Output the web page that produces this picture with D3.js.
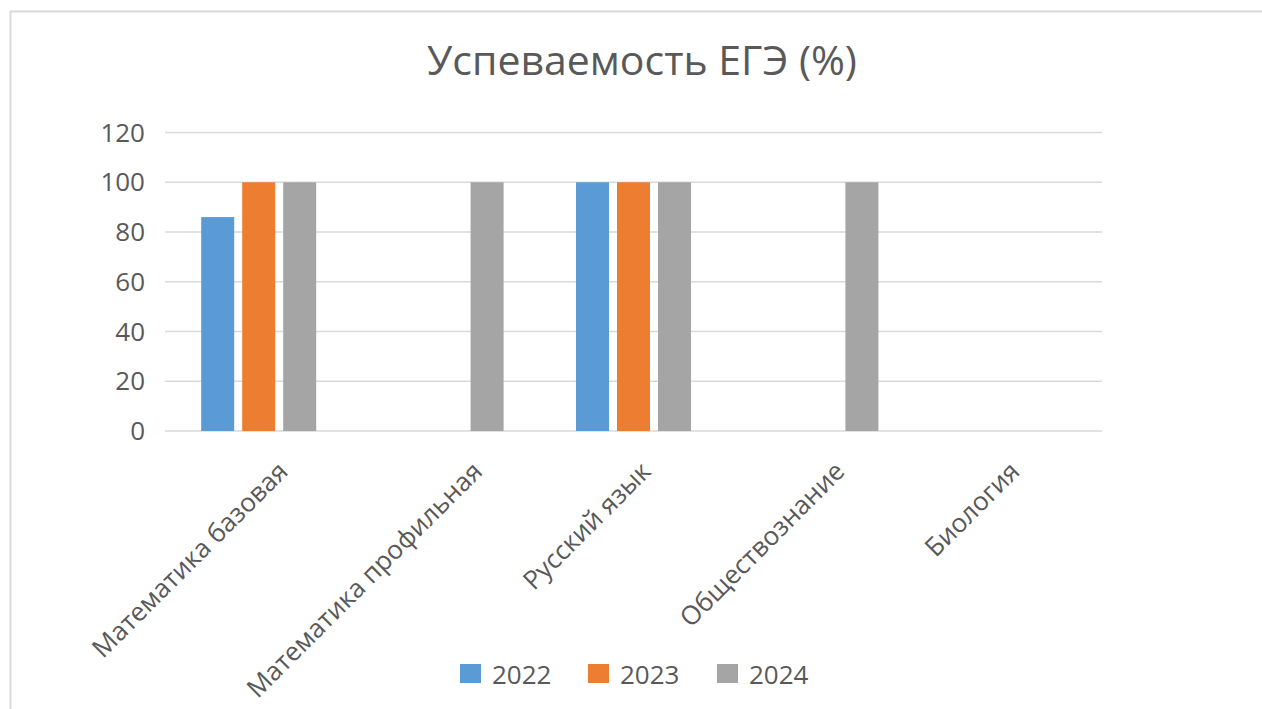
<!DOCTYPE html>
<html><head><meta charset="utf-8">
<script src="https://cdn.jsdelivr.net/npm/d3@7"></script>
<style>body{margin:0;background:#fff;} svg{display:block;} text{font-family:"Open Sans",sans-serif;fill:#595959;}</style>
</head><body>
<svg id="c" width="1262" height="709"></svg>
<script>
const categories = ["Математика базовая","Математика профильная","Русский язык","Обществознание","Биология"];
const seriesNames = ["2022","2023","2024"];
const values2022 = [86, null, 100, null, null];
const values2023 = [100, null, 100, null, null];
const values2024 = [100, 100, 100, 100, null];
const yTicks = [0,20,40,60,80,100,120];
const colors = ["#5b9bd5","#ed7d31","#a5a5a5"];
const title = "Успеваемость ЕГЭ (%)";

const allValues = [values2022, values2023, values2024];
const svg = d3.select("#c");
svg.append("rect").attr("x",10.5).attr("y",11.5).attr("width",1400).attr("height",900)
  .attr("fill","none").attr("stroke","#d9d9d9").attr("stroke-width",2);

const x0 = d3.scaleBand().domain(categories).range([165,1102]).paddingInner(0).paddingOuter(0);
const y = d3.scaleLinear().domain([0,120]).range([431,132.5]);
const groupW = 115;
const x1 = d3.scaleBand().domain(seriesNames).range([-groupW/2, groupW/2]).paddingInner(8/41).paddingOuter(0);

svg.append("text").attr("x",642).attr("y",75).attr("text-anchor","middle")
  .style("font-size","41px").text(title);

const g = svg.append("g");
g.selectAll("line.grid").data(yTicks).join("line").attr("class","grid")
  .attr("x1",165).attr("x2",1102).attr("y1",d=>y(d)).attr("y2",d=>y(d))
  .attr("stroke","#d9d9d9").attr("stroke-width",1.5);
g.selectAll("text.yt").data(yTicks).join("text").attr("class","yt")
  .attr("x",145).attr("y",d=>y(d)).attr("dy","0.35em").attr("text-anchor","end")
  .style("font-size","26px").text(d=>d);

seriesNames.forEach((s,si)=>{
  const data = categories.map((c,i)=>({c, v: allValues[si][i]})).filter(d=>d.v!==null);
  g.selectAll("rect.s"+si).data(data).join("rect").attr("class","s"+si)
    .attr("x",d=>x0(d.c)+x0.bandwidth()/2+x1(s)).attr("width",x1.bandwidth())
    .attr("y",d=>y(d.v)).attr("height",d=>y(0)-y(d.v)).attr("fill",colors[si]);
});

const lab = g.selectAll("text.cat").data(categories).join("text").attr("class","cat")
  .attr("text-anchor","end").style("font-size","26px").text(d=>d);
lab.each(function(d){
  const L = this.getComputedTextLength();
  const cx = x0(d)+x0.bandwidth()/2;
  const off = 0.125*L - 2.2;
  d3.select(this).attr("transform",`translate(${cx+off},473) rotate(-45)`);
});

const leg = svg.append("g");
const legX = [460,588,717];
seriesNames.forEach((s,i)=>{
  leg.append("rect").attr("x",legX[i]).attr("y",664).attr("width",21).attr("height",19).attr("fill",colors[i]);
  leg.append("text").attr("x",legX[i]+32).attr("y",684).style("font-size","26px").text(s);
});
</script></body></html>
